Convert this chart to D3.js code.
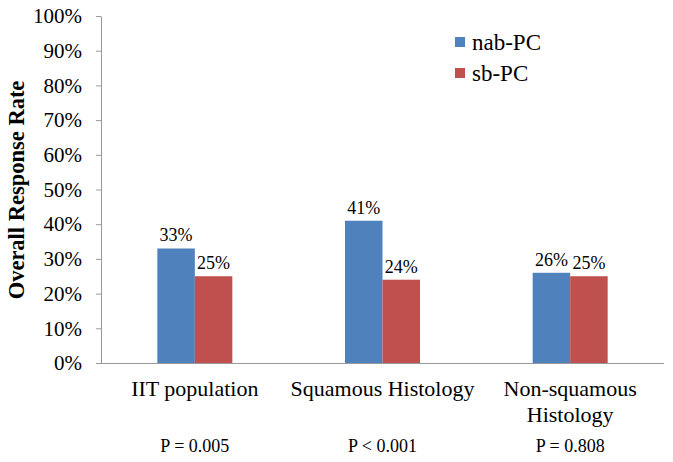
<!DOCTYPE html>
<html><head><meta charset="utf-8">
<script src="https://cdn.jsdelivr.net/npm/d3@7"></script>
<style>body{margin:0;background:#fff}svg{display:block}text{font-family:'Liberation Serif','Times New Roman',serif}</style>
</head><body>
<svg id="c" width="673" height="462"></svg>
<script>
const categories = [["IIT population"], ["Squamous Histology"], ["Non-squamous", "Histology"]];
const seriesNames = ["nab-PC", "sb-PC"];
const nabPC = [33, 41, 26];
const sbPC = [25, 24, 25];
const pValues = ["P = 0.005", "P < 0.001", "P = 0.808"];
const yTicks = [0, 10, 20, 30, 40, 50, 60, 70, 80, 90, 100];
const colors = ["#4F81BD", "#C0504D"];

(function () {
const svg = d3.select("#c");
const font = "'Liberation Serif', 'Times New Roman', serif";
const mLeft = 101, mRight = 664, mTop = 16, mBottom = 363;
const x = d3.scaleBand().domain(d3.range(categories.length)).range([mLeft, mRight]).paddingInner(0).paddingOuter(0);
const inner = d3.scaleBand().domain(d3.range(2)).range([0, 75]);
const y = d3.scaleLinear().domain([0, 100]).range([mBottom, mTop]);

// y axis
const ya = svg.append("g").attr("transform", `translate(${mLeft},0)`)
  .call(d3.axisLeft(y).tickValues(yTicks).tickFormat(d => d + "%").tickSize(5).tickSizeOuter(0));
ya.attr("font-family", font);
ya.select(".domain").attr("stroke", "#999");
ya.selectAll(".tick line").attr("stroke", "#999");
ya.selectAll(".tick text").attr("font-family", font).attr("font-size", 21).attr("fill", "#000").attr("x", -19);

// bars
const series = [nabPC, sbPC];
series.forEach((vals, si) => {
  svg.append("g").selectAll("rect").data(vals).join("rect")
    .attr("x", (d, i) => x(i) + x.bandwidth() / 2 - 37.5 + inner(si))
    .attr("width", inner.bandwidth())
    .attr("y", d => y(d))
    .attr("height", d => mBottom - y(d))
    .attr("fill", colors[si]);
  svg.append("g").selectAll("text").data(vals).join("text")
    .attr("x", (d, i) => x(i) + x.bandwidth() / 2 - 37.5 + inner(si) + inner.bandwidth() / 2)
    .attr("y", d => y(d) - 7)
    .attr("text-anchor", "middle")
    .attr("font-family", font).attr("font-size", 18).attr("fill", "#000")
    .text(d => d + "%");
});

// x axis line
svg.append("line").attr("x1", mLeft).attr("x2", mRight).attr("y1", mBottom + 0.5).attr("y2", mBottom + 0.5)
  .attr("stroke", "#999");

// category labels
categories.forEach((lines, i) => {
  const t = svg.append("text").attr("text-anchor", "middle")
    .attr("font-family", font).attr("font-size", 22).attr("fill", "#000");
  lines.forEach((ln, j) => {
    t.append("tspan").attr("x", x(i) + x.bandwidth() / 2).attr("y", 396 + j * 26).text(ln);
  });
});

// p values
svg.append("g").selectAll("text").data(pValues).join("text")
  .attr("x", (d, i) => x(i) + x.bandwidth() / 2)
  .attr("y", 452)
  .attr("text-anchor", "middle")
  .attr("font-family", font).attr("font-size", 18).attr("fill", "#000")
  .text(d => d);

// y title
svg.append("text").attr("transform", "translate(24,190) rotate(-90)")
  .attr("text-anchor", "middle").attr("font-family", font).attr("font-size", 22.5)
  .attr("font-weight", "bold").attr("fill", "#000").text("Overall Response Rate");

// legend
seriesNames.forEach((n, i) => {
  const yy = 42 + i * 31;
  svg.append("rect").attr("x", 455).attr("y", yy - 5).attr("width", 10).attr("height", 10).attr("fill", colors[i]);
  svg.append("text").attr("x", 472).attr("y", yy + 8).attr("font-family", font).attr("font-size", 23)
    .attr("fill", "#000").text(n);
});
})();
</script>
</body></html>
